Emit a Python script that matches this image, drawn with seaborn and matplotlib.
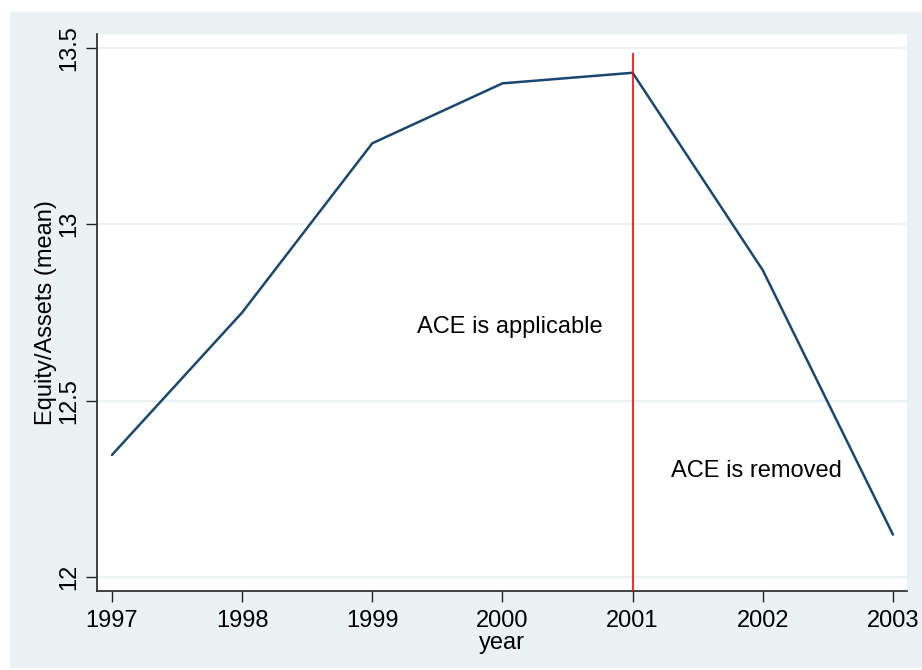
import matplotlib
matplotlib.use("Agg")
import matplotlib.pyplot as plt
from matplotlib.patches import Rectangle
import seaborn as sns

years = [1997, 1998, 1999, 2000, 2001, 2002, 2003]
equity_assets = [12.346, 12.75, 13.23, 13.40, 13.43, 12.87, 12.12]
y_ticks = [12, 12.5, 13, 13.5]
y_tick_labels = ["12", "12.5", "13", "13.5"]

sns.set_style("white")
plt.rcParams["font.family"] = ["Liberation Sans", "DejaVu Sans"]
plt.rcParams["text.color"] = "black"
plt.rcParams["axes.labelcolor"] = "black"
plt.rcParams["xtick.color"] = "black"
plt.rcParams["ytick.color"] = "black"

bg = "#eaf2f3"
fig = plt.figure(figsize=(9.22, 6.70), dpi=100)
fig.patch.set_facecolor("white")
fig.patches.append(Rectangle((10 / 922, 2 / 670), 912 / 922, 656 / 670,
                             transform=fig.transFigure, facecolor=bg,
                             edgecolor="none", zorder=-10))

ax = fig.add_axes([97 / 922, 79 / 670, 810 / 922, 557 / 670])
ax.set_zorder(1)
ax.set_facecolor("white")

for t in y_ticks:
    ax.axhline(t, color=bg, lw=1.5, zorder=1)

sns.lineplot(x=years, y=equity_assets, color="#1a476f", lw=1.8, ax=ax, zorder=3)

ax.vlines(2001, 11.96, 13.485, color="red", lw=1.2, zorder=4)

ax.text(2000.06, 12.71, "ACE is applicable", fontsize=17, ha="center", va="center")
ax.text(2001.95, 12.30, "ACE is removed", fontsize=17, ha="center", va="center")

ax.set_xlim(1996.885, 2003.108)
ax.set_ylim(11.96, 13.54)
ax.set_xticks(years)
ax.set_xticklabels([str(y) for y in years], fontsize=17)
ax.set_yticks(y_ticks)
ax.set_yticklabels(y_tick_labels, fontsize=17, rotation=90, va="center")
ax.tick_params(axis="x", direction="out", length=8, width=1, color="#222222",
               bottom=True, pad=6)
ax.tick_params(axis="y", direction="out", length=8, width=1, color="#222222",
               left=True, pad=4)
ax.set_xlabel("year", fontsize=17, labelpad=0)
ax.set_ylabel("Equity/Assets (mean)", fontsize=17, labelpad=1)

for s in ["top", "right"]:
    ax.spines[s].set_visible(False)
for s in ["left", "bottom"]:
    ax.spines[s].set_color("#222222")
    ax.spines[s].set_linewidth(1.2)

fig.savefig("out.png", dpi=100, facecolor=fig.get_facecolor())
